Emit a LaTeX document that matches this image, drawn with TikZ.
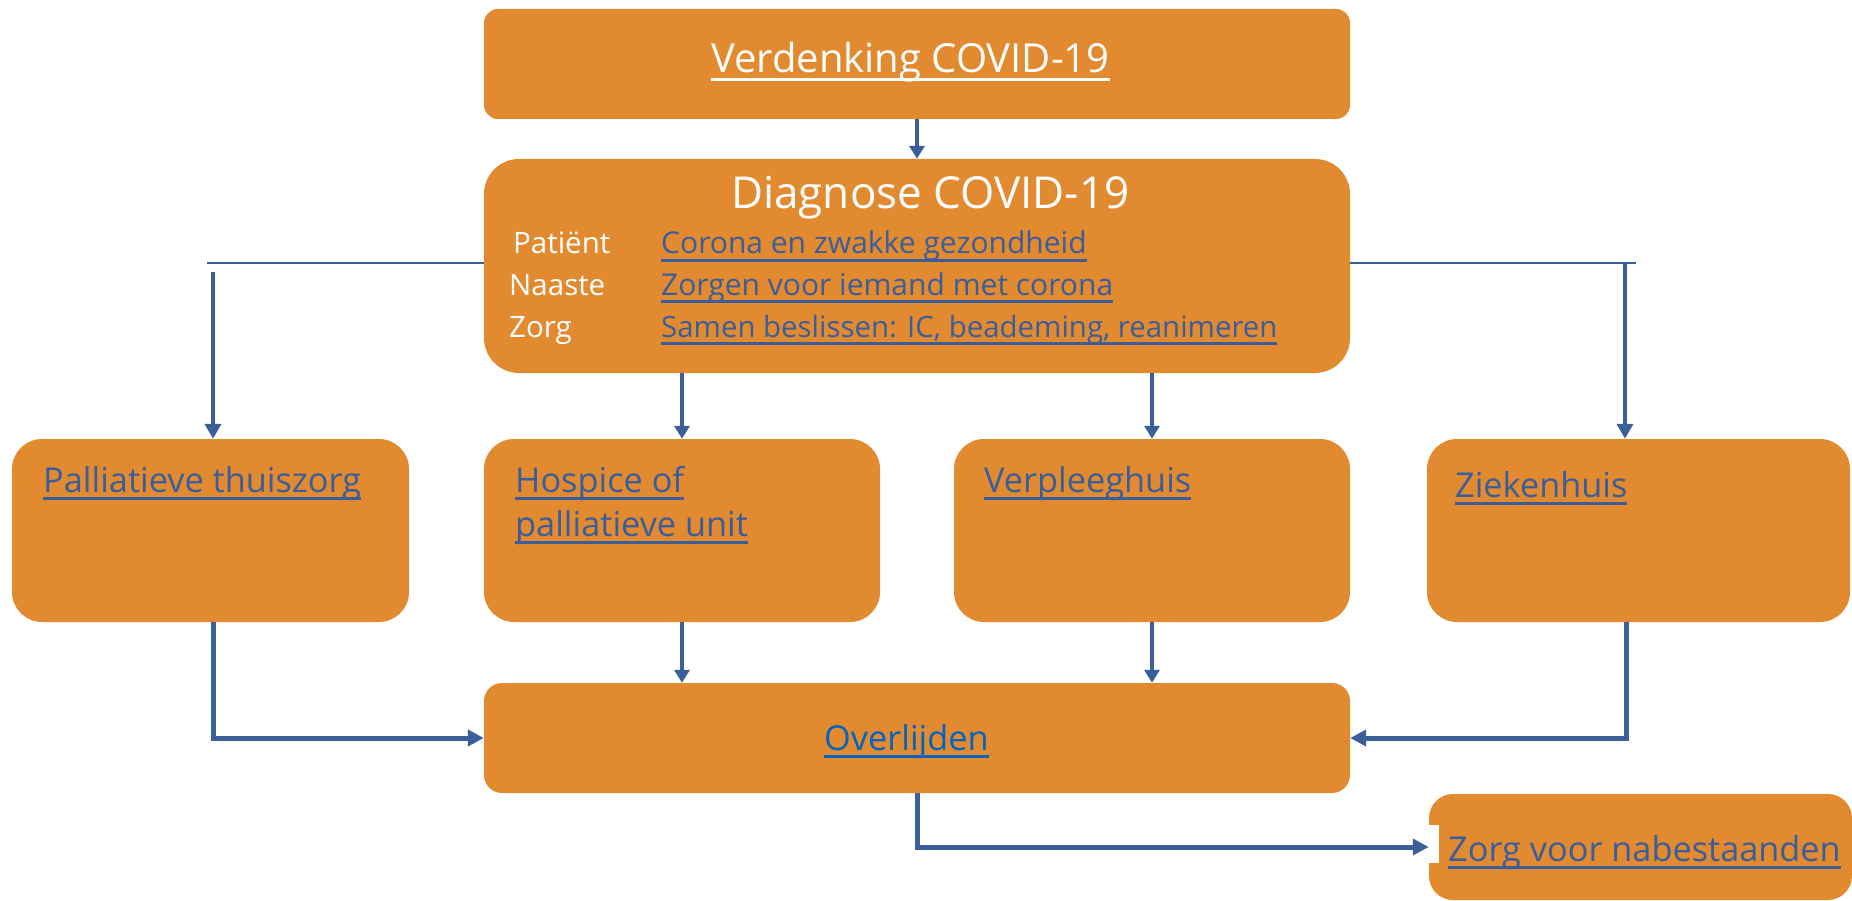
\documentclass[tikz,border=0pt]{standalone}
\usepackage{fontspec}
\setmainfont{Open Sans}
\newcommand{\ulx}[1]{\setbox0\hbox{#1}\rlap{\rule[-8pt]{\wd0}{2.8pt}}\box0}
\usetikzlibrary{arrows.meta}
\definecolor{orng}{RGB}{226,138,47}
\definecolor{lnblue}{RGB}{59,95,153}
\definecolor{lkblue}{RGB}{58,93,156}
\definecolor{hlblue}{RGB}{5,99,193}
\tikzset{
  box/.style={fill=orng, draw=none, inner sep=0pt},
  ttl/.style={text=white, inner sep=0pt, anchor=base west, font=\fontsize{40}{48}\selectfont},
  lbl/.style={text=white, inner sep=0pt, anchor=base west, font=\fontsize{29.5}{35}\selectfont},
  lnk/.style={text=lkblue, inner sep=0pt, anchor=base west, font=\fontsize{30}{36}\selectfont},
  hd/.style={text=lkblue, inner sep=0pt, anchor=base west, font=\fontsize{34.3}{42}\selectfont},
  thinln/.style={draw=lnblue, line width=2.2pt},
  arrA/.style={draw=lnblue, line width=3.6pt, -{Triangle[width=15pt,length=13pt]}},
  arrB/.style={draw=lnblue, line width=4.8pt, -{Triangle[width=16pt,length=15pt]}},
  arrC/.style={draw=lnblue, line width=5pt, -{Triangle[width=16pt,length=16pt]}},
}
\begin{document}
\begin{tikzpicture}[x=1pt,y=-1pt]
\useasboundingbox (0,0) rectangle (1852,901);
% boxes
\node[box, minimum width=866pt, minimum height=110pt, rounded corners=14pt] (v) at (917,64) {};
\node[box, minimum width=866pt, minimum height=214pt, rounded corners=35pt] (d) at (917,266) {};
\node[box, minimum width=397pt, minimum height=183pt, rounded corners=30pt] (pal) at (210.5,530.5) {};
\node[box, minimum width=396pt, minimum height=183pt, rounded corners=30pt] (hos) at (682,530.5) {};
\node[box, minimum width=396pt, minimum height=183pt, rounded corners=30pt] (ver) at (1152,530.5) {};
\node[box, minimum width=423pt, minimum height=183pt, rounded corners=30pt] (zie) at (1638.5,530.5) {};
\node[box, minimum width=866pt, minimum height=110pt, rounded corners=18pt] (ove) at (917,738) {};
\node[box, minimum width=423pt, minimum height=106pt, rounded corners=24pt] (zor) at (1640.5,847) {};
\fill[white] (1429,825) rectangle (1439,863);
% texts
\node[ttl] (tv) at (711,73) {\ulx{Verdenking COVID-19}};
\node[ttl, font=\fontsize{44}{52}\selectfont] (td) at (731,209) {Diagnose COVID-19};
\node[lbl] (p1) at (513,254) {Patiënt};
\node[lbl] (p2) at (509,295) {Naaste};
\node[lbl] (p3) at (509,337) {Zorg};
\node[lnk] (l1) at (661,254) {\ulx{Corona en zwakke gezondheid}};
\node[lnk] (l2) at (661,295) {\ulx{Zorgen voor iemand met corona}};
\node[lnk, font=\fontsize{29.4}{36}\selectfont] (l3) at (661,337) {\ulx{Samen beslissen: IC, beademing, reanimeren}};
\node[hd] (tpal) at (43,492) {\ulx{Palliatieve thuiszorg}};
\node[hd] (thos) at (515,492) {\ulx{Hospice of}};
\node[hd] (thos2) at (515,536) {\ulx{palliatieve unit}};
\node[hd] (tver) at (984,492) {\ulx{Verpleeghuis}};
\node[hd] (tzie) at (1455,497) {\ulx{Ziekenhuis}};
\node[hd, text=hlblue] (tove) at (824,750) {\ulx{Overlijden}};
\node[hd] (tzor) at (1448,861) {\ulx{Zorg voor nabestaanden}};
% connectors
\coordinate (hl) at (207,263);
\coordinate (hr) at (1636,263);
\coordinate (la) at (213,272);
\coordinate (ra) at (1625,263);
\coordinate (rb) at (1626,622);
\draw[arrA] (v.south) -- (d.north);
\draw[thinln] (hl) -- (d.west |- hl);
\draw[thinln] (d.east |- hr) -- (hr);
\draw[arrB] (la) -- (la |- pal.north);
\draw[arrB] (ra) -- (ra |- zie.north);
\draw[arrA] (d.south -| hos.north) -- (hos.north);
\draw[arrA] (d.south -| ver.north) -- (ver.north);
\draw[arrA] (hos.south) -- (hos.south |- ove.north);
\draw[arrA] (ver.south) -- (ver.south |- ove.north);
\draw[arrC] (pal.south -| la) |- (ove.west);
\draw[arrC] (rb) |- (ove.east);
\draw[arrC] (ove.south) |- (zor.west);
\end{tikzpicture}
\end{document}
